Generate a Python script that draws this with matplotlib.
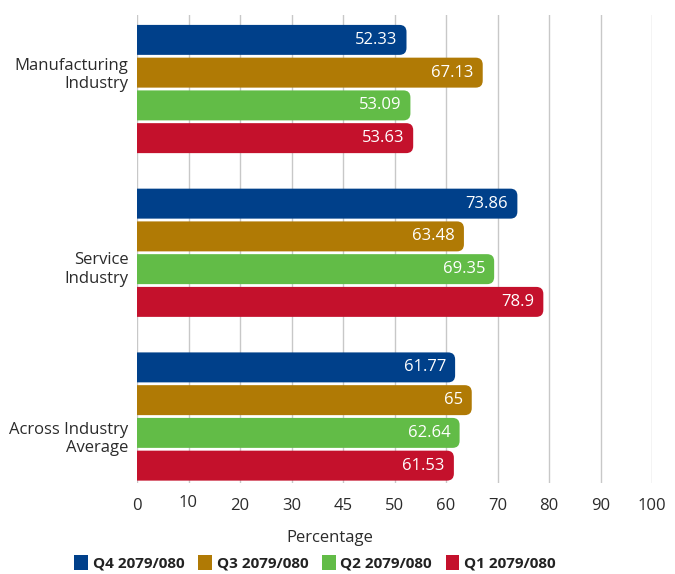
import matplotlib.pyplot as plt
import matplotlib.transforms as mtransforms
from matplotlib.patches import FancyBboxPatch, Patch
import numpy as np

plt.rcParams['font.family'] = ['Open Sans', 'DejaVu Sans']

# Capacity utilisation by industry, four quarters of 2079/080
industries = ["Manufacturing\nIndustry", "Service\nIndustry", "Across Industry\nAverage"]
quarters = ["Q4 2079/080", "Q3 2079/080", "Q2 2079/080", "Q1 2079/080"]
q4 = [52.33, 73.86, 61.77]
q3 = [67.13, 63.48, 65]
q2 = [53.09, 69.35, 62.64]
q1 = [53.63, 78.9, 61.53]
series = [q4, q3, q2, q1]
colors = ["#00408A", "#B07A05", "#62BC47", "#C4112C"]
xtick_labels = ["0", "10", "20", "30", "45", "50", "60", "70", "80", "90", "100"]

fig = plt.figure(figsize=(6.75, 5.74), dpi=100)
ax = fig.add_axes([137 / 675, 1 - 483 / 574, 515 / 675, 468 / 574])

groups = np.arange(len(industries))
offsets = [-0.3, -0.1, 0.1, 0.3]
bar_h = 0.183
rad = 1.36          # corner radius in x units
aspect = 0.0315     # keeps the corners round despite unequal scales

for vals, off, col in zip(series, offsets, colors):
    for g, v in zip(groups, vals):
        y = g + off
        box = FancyBboxPatch((-5, y - bar_h / 2), v + 5, bar_h,
                             boxstyle="round,pad=0,rounding_size=%s" % rad,
                             mutation_aspect=aspect, facecolor=col,
                             edgecolor="none", zorder=3)
        ax.add_patch(box)
        ax.annotate(("%g" % v), xy=(v, y), xytext=(-6.5, 0),
                    textcoords="offset points", ha="right", va="center",
                    color="white", fontsize=12, zorder=4)

ax.set_xlim(0, 100)
ax.set_ylim(2.406, -0.452)

ax.set_xticks(np.arange(0, 101, 10))
ax.set_xticklabels(xtick_labels)
ax.tick_params(axis="x", length=0, pad=10.5, labelsize=12, labelcolor="#2b2b2b")
ax.grid(axis="x", color="#C8C8C8", linewidth=1)
ax.set_axisbelow(True)

# category labels sit beside each group of bars
ax.set_yticks([-0.104, 1.082, 2.119])
ax.set_yticklabels(industries, ha="right", multialignment="right")
ax.tick_params(axis="y", length=0, pad=6, labelsize=12, labelcolor="#2b2b2b")

for s in ax.spines.values():
    s.set_visible(False)

# small lift on the "10" label
lbl = ax.get_xticklabels()[1]
lbl.set_transform(lbl.get_transform() +
                  mtransforms.ScaledTranslation(0, 3 / 100, fig.dpi_scale_trans))

fig.text(330 / 675, 1 - 538 / 574, "Percentage", ha="center", va="center",
         fontsize=12, color="#2b2b2b")

handles = [Patch(facecolor=c, edgecolor="none") for c in colors]
leg = fig.legend(handles, quarters, loc="center", bbox_to_anchor=(315 / 675, 1 - 563 / 574),
                 ncol=4, frameon=False, handlelength=0.9, handleheight=1.05,
                 handletextpad=0.3, columnspacing=0.9,
                 prop={"weight": "bold", "size": 11})
for t in leg.get_texts():
    t.set_color("#222222")

fig.savefig("out.png", dpi=100)
